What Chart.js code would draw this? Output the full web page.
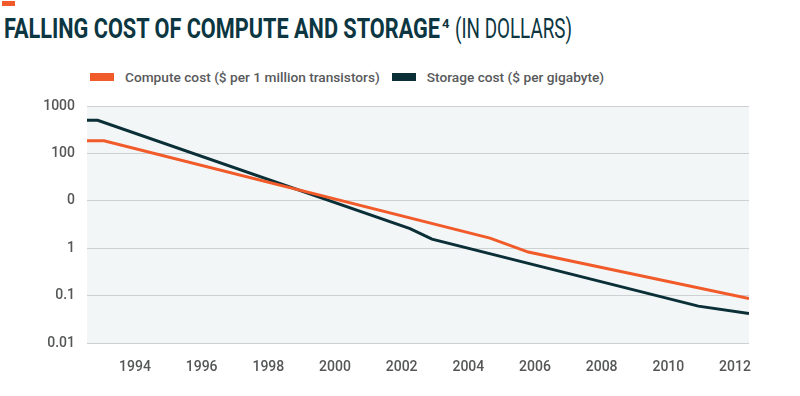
<!DOCTYPE html>
<html>
<head>
<meta charset="utf-8">
<script src="https://cdn.jsdelivr.net/npm/chart.js@4.4.1/dist/chart.umd.min.js"></script>
<style>
  body { margin: 0; background: #fff; }
  #wrap { position: relative; width: 800px; height: 396px; overflow: hidden; font-family: Roboto, 'Noto Sans', sans-serif; }
  #chart { position: absolute; left: 0; top: 0; }
  #accent { position: absolute; left: 2px; top: 1px; width: 13px; height: 5px; background: #f15a29; }
  .tpart { position: absolute; top: 15px; font-size: 28px; line-height: 1; color: #0c3641; white-space: nowrap; transform-origin: 0 0; }
  #tMain { left: 4px; font-weight: 700; }
  #tSup { left: 442px; top: 17px; font-size: 13px; font-weight: 700; }
  #tUnit { left: 455px; font-weight: 400; }
  #legend { position: absolute; left: 90px; top: 69px; display: flex; align-items: center; font-size: 13.7px; font-weight: 500; color: #58595b; white-space: nowrap; }
  .item { display: flex; align-items: center; margin-right: 12px; }
  .swatch { width: 24px; height: 8px; margin-right: 11px; }
</style>
</head>
<body>
<div id="wrap">
  <div id="accent"></div>
  <div id="title">
    <span class="tpart" id="tMain">FALLING COST OF COMPUTE AND STORAGE</span><span class="tpart" id="tSup">4</span><span class="tpart" id="tUnit">(IN DOLLARS)</span>
  </div>
  <div id="legend"></div>
  <canvas id="chart" width="800" height="396"></canvas>
</div>
<script>
// series names + colours
const seriesNames = ['Compute cost ($ per 1 million transistors)', 'Storage cost ($ per gigabyte)'];
const seriesColors = ['#f15a29', '#0b2f37'];

// values, at the points where each line bends
const computeYears = [1992.56, 1993.07, 2004.65, 2005.8, 2012.42];
const computeCost = [185, 185, 1.63, 0.83, 0.087];
const storageYears = [1992.56, 1992.88, 2002.25, 2002.91, 2010.9, 2012.42];
const storageCost = [500, 500, 2.6, 1.55, 0.06, 0.042];

// axis ticks (the original labels 10 as "0")
const xTickYears = [1994, 1996, 1998, 2000, 2002, 2004, 2006, 2008, 2010, 2012];
const yTickValues = [0.01, 0.1, 1, 10, 100, 1000];
const yTickLabels = ['0.01', '0.1', '1', '0', '100', '1000'];

// squeeze the title parts to the condensed widths of the original
function fitWidth(id, w) {
  const el = document.getElementById(id);
  el.style.transform = 'scaleX(' + (w / el.getBoundingClientRect().width) + ')';
}
fitWidth('tMain', 436);
fitWidth('tUnit', 117);

// legend
const legend = document.getElementById('legend');
seriesNames.forEach((name, i) => {
  const item = document.createElement('div');
  item.className = 'item';
  item.innerHTML = '<span class="swatch" style="background:' + seriesColors[i] + '"></span><span>' + name + '</span>';
  legend.appendChild(item);
});

const plotBackground = {
  id: 'plotBackground',
  beforeDraw(chart) {
    const { ctx, chartArea } = chart;
    ctx.save();
    ctx.fillStyle = '#f2f6f7';
    ctx.fillRect(chartArea.left, chartArea.top, chartArea.right - chartArea.left, chartArea.bottom - chartArea.top);
    ctx.restore();
  }
};

const tickFont = { family: 'Roboto', size: 14, weight: '500' };

new Chart(document.getElementById('chart'), {
  type: 'line',
  data: {
    datasets: [
      {
        label: seriesNames[0],
        data: computeYears.map((x, i) => ({ x: x, y: computeCost[i] })),
        borderColor: seriesColors[0],
        backgroundColor: seriesColors[0],
        borderWidth: 3,
        pointRadius: 0,
        tension: 0,
      },
      {
        label: seriesNames[1],
        data: storageYears.map((x, i) => ({ x: x, y: storageCost[i] })),
        borderColor: seriesColors[1],
        backgroundColor: seriesColors[1],
        borderWidth: 3,
        pointRadius: 0,
        tension: 0,
      }
    ]
  },
  options: {
    responsive: false,
    animation: false,
    layout: { padding: { top: 106, left: 0, right: 51, bottom: 0 } },
    plugins: {
      legend: { display: false },
      tooltip: { enabled: false },
    },
    scales: {
      x: {
        type: 'linear',
        min: 1992.56,
        max: 2012.42,
        afterBuildTicks: (scale) => { scale.ticks = xTickYears.map(v => ({ value: v })); },
        afterFit: (scale) => { scale.height = 53; },
        border: { display: false },
        grid: { display: false, drawTicks: false },
        ticks: {
          padding: 16,
          color: '#555657',
          font: tickFont,
          maxRotation: 0,
          autoSkip: false,
          callback: (value) => String(value),
        },
      },
      y: {
        type: 'logarithmic',
        min: 0.01,
        max: 1000,
        afterBuildTicks: (scale) => { scale.ticks = yTickValues.map(v => ({ value: v })); },
        afterFit: (scale) => { scale.width = 87; },
        border: { display: false },
        grid: { color: '#cdd1d2', lineWidth: 1, drawTicks: false },
        ticks: {
          padding: 12,
          color: '#555657',
          font: tickFont,
          autoSkip: false,
          callback: (value, index) => yTickLabels[index],
        },
      }
    }
  },
  plugins: [plotBackground]
});
</script>
</body>
</html>
